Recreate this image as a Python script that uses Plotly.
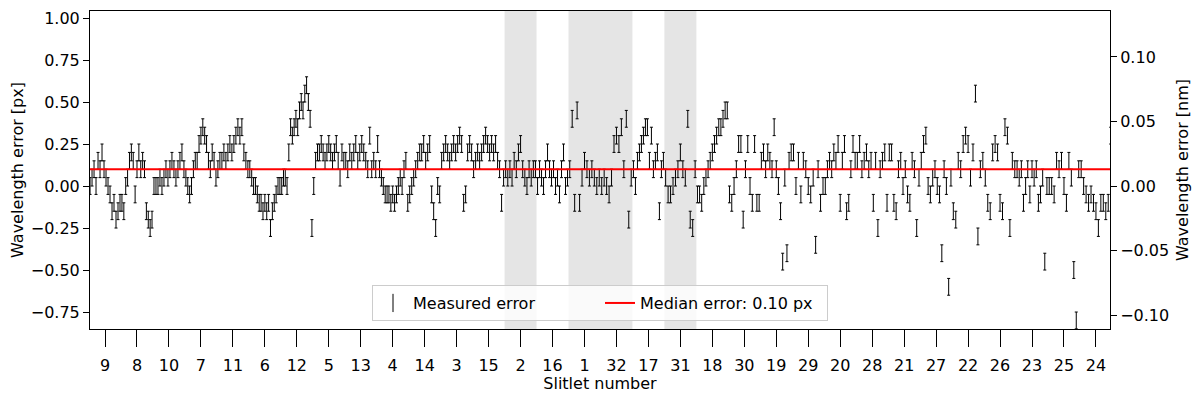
import plotly.graph_objects as go

# Slitlet order along the x axis
slitlets = ["9", "8", "10", "7", "11", "6", "12", "5", "13", "4", "14", "3", "15", "2", "16", "1",
            "32", "17", "31", "18", "30", "19", "29", "20", "28", "21", "27", "22", "26", "23", "25", "24"]

# Slitlets flagged as bad (shaded)
bad_slitlets = ["2", "1", "32", "31"]

# Measured wavelength error per line [px], grouped by slitlet
err_9 = [0.0, 0.05, 0.1, 0.0, 0.15, 0.1, 0.2, 0.1, 0.05, 0.0, -0.05, -0.15, -0.1, -0.2, -0.15, -0.1]
err_8 = [-0.1, -0.15, 0.0, 0.05, 0.15, 0.2, 0.15, -0.05, 0.1, 0.2, 0.1, 0.15, 0.1, -0.15, -0.2, -0.25, -0.2]
err_10 = [0.0, 0.0, 0.0, 0.05, 0.0, 0.05, 0.1, 0.05, 0.1, 0.15, 0.1, 0.05, 0.1, 0.15, 0.2, 0.1]
err_7 = [0.05, 0.0, -0.05, 0.0, 0.1, 0.15, 0.15, 0.25, 0.3, 0.35, 0.3, 0.25, 0.15, 0.1, 0.2, 0.15, 0.05]
err_11 = [0.1, 0.15, 0.15, 0.2, 0.15, 0.2, 0.25, 0.2, 0.25, 0.3, 0.35, 0.3, 0.35, 0.2, 0.15, 0.1]
err_6 = [0.1, 0.05, 0.0, 0.0, -0.05, -0.1, -0.1, -0.15, -0.1, -0.15, -0.1, -0.25, -0.15, -0.1, -0.05, 0.0, 0.0]
err_12 = [0.0, 0.05, 0.05, 0.0, 0.2, 0.35, 0.3, 0.35, 0.4, 0.35, 0.45, 0.5, 0.45, 0.55, 0.6, 0.5, 0.4, -0.25]
err_5 = [0.0, 0.15, 0.2, 0.2, 0.25, 0.2, 0.15, 0.2, 0.25, 0.2, 0.15, 0.2, 0.25, 0.15, 0.05, 0.2, 0.15]
err_13 = [0.15, 0.1, 0.2, 0.15, 0.2, 0.25, 0.15, 0.2, 0.25, 0.2, 0.15, 0.1, 0.3, 0.1, 0.15, 0.1]
err_4 = [0.25, 0.1, 0.05, 0.0, -0.05, -0.05, -0.05, -0.1, -0.05, -0.1, -0.05, 0.0, 0.05, 0.0, 0.1, 0.15, -0.1]
err_14 = [-0.05, 0.0, 0.05, 0.1, 0.15, 0.2, 0.2, 0.25, 0.15, 0.2, 0.25, -0.05, -0.15, -0.25, 0.0, -0.05]
err_3 = [0.15, 0.2, 0.25, 0.2, 0.15, 0.2, 0.25, 0.2, 0.25, 0.3, 0.25, -0.1, -0.05, 0.2, 0.25, 0.2]
err_15 = [0.1, 0.15, 0.2, 0.15, 0.2, 0.25, 0.3, 0.25, 0.2, 0.25, 0.2, 0.25, 0.15, 0.1, -0.1, 0.05]
err_2 = [0.1, 0.05, 0.1, 0.05, 0.15, 0.1, 0.2, 0.25, 0.1, 0.05, 0.0, 0.1, 0.05, 0.1, 0.1]
err_16 = [0.0, 0.1, 0.05, 0.0, 0.1, 0.2, 0.1, 0.05, 0.1, 0.0, 0.05, -0.05, 0.1, 0.2, 0.0, 0.05]
err_1 = [0.1, 0.4, -0.1, 0.45, -0.1, 0.05, 0.15, 0.1, 0.05, 0.1, 0.05, 0.0, 0.05]
err_32 = [0.0, 0.05, 0.0, -0.05, 0.05, 0.25, 0.3, 0.25, 0.35, 0.1, 0.4, -0.2, 0.05]
err_17 = [0.1, 0.0, 0.15, 0.2, 0.25, 0.3, 0.35, 0.35, 0.15, 0.3, 0.1, 0.15, 0.2, -0.15, 0.1, 0.15]
err_31 = [0.05, -0.05, -0.05, 0.0, 0.05, 0.1, 0.2, 0.1, 0.05, 0.4, -0.2, -0.25, 0.1]
err_18 = [-0.05, -0.05, -0.1, 0.0, 0.05, 0.1, 0.15, 0.2, 0.25, 0.3, 0.35, 0.35, 0.4, 0.45, 0.45]
err_30 = [-0.05, -0.1, 0.0, 0.1, 0.25, 0.25, -0.2, 0.1, 0.25, 0.0, -0.1, 0.25, -0.1, -0.1]
err_19 = [0.15, 0.2, 0.1, 0.2, 0.15, 0.1, 0.35, 0.1, 0.0, -0.15, -0.45, 0.05, -0.4, 0.15, 0.2]
err_29 = [0.2, 0.0, 0.15, -0.05, 0.15, 0.1, 0.0, -0.05, 0.05, -0.35, 0.1, -0.1, 0.0]
err_20 = [0.0, 0.1, 0.15, 0.1, 0.2, 0.15, 0.25, -0.1, 0.15, 0.25, -0.15, -0.1, 0.1, 0.25, 0.15]
err_28 = [0.15, 0.25, 0.1, 0.15, 0.2, 0.1, 0.15, -0.1, 0.15, -0.25, 0.1, 0.15, 0.2, -0.1]
err_21 = [0.2, 0.2, -0.1, -0.15, 0.1, 0.15, 0.0, 0.1, -0.05, -0.1, 0.15, 0.1, -0.25, 0.05]
err_27 = [0.15, 0.25, 0.3, 0.0, -0.05, 0.05, 0.1, 0.0, -0.05, -0.4, 0.1, 0.0, -0.6, 0.05]
err_22 = [-0.15, -0.2, 0.15, 0.1, 0.25, 0.3, 0.25, 0.05, 0.2, 0.55, -0.3, 0.1, 0.15]
err_26 = [0.05, -0.1, -0.15, 0.2, 0.25, 0.2, -0.1, -0.15, 0.35, 0.3, -0.25, 0.15, 0.1]
err_23 = [0.1, 0.05, 0.1, -0.1, 0.0, 0.1, -0.05, 0.1, 0.05, 0.1, -0.1, -0.05, 0.05, -0.45, 0.0]
err_25 = [0.0, 0.0, -0.05, 0.15, 0.1, 0.15, 0.0, -0.1, 0.15, 0.05, -0.5, -0.8, 0.1]
err_24 = [0.1, 0.0, -0.05, -0.1, -0.05, -0.1, -0.15, -0.25, -0.1, -0.1, -0.15, -0.1, 0.3]

errors_by_slitlet = [err_9, err_8, err_10, err_7, err_11, err_6, err_12, err_5, err_13, err_4,
                     err_14, err_3, err_15, err_2, err_16, err_1, err_32, err_17, err_31, err_18,
                     err_30, err_19, err_29, err_20, err_28, err_21, err_27, err_22, err_26, err_23,
                     err_25, err_24]

uncertainty_px = 0.05   # error bar half-height [px]
median_px = 0.10        # median error [px]
px_to_nm = 0.1302       # dispersion, nm per px

# Spread lines of each slitlet across its slot on the axis
xs, ys = [], []
for i, vals in enumerate(errors_by_slitlet):
    n = len(vals)
    for j, v in enumerate(vals):
        xs.append(i - 0.5 + (j + 0.5) / n)
        ys.append(v)

y_range = [-0.851, 1.0417]
x_range = [-0.47, len(slitlets) - 0.56]
font = dict(family="DejaVu Sans", size=16, color="black")

fig = go.Figure()

# Shade bad slitlets, merging neighbours into one band
bad_idx = [i for i, name in enumerate(slitlets) if name in bad_slitlets]
bands = []
for i in bad_idx:
    if bands and bands[-1][1] == i - 1:
        bands[-1][1] = i
    else:
        bands.append([i, i])
for a, b in bands:
    fig.add_vrect(x0=a - 0.5, x1=b + 0.5, fillcolor="#e5e5e5", opacity=1, line_width=0, layer="below")

fig.add_trace(go.Scatter(
    x=xs, y=ys, mode="markers",
    marker=dict(size=1, color="black", opacity=0),
    error_y=dict(type="constant", value=uncertainty_px, color="black", thickness=1, width=1.5),
    showlegend=False, hoverinfo="skip"))

# Legend stand-in for the error bars
fig.add_trace(go.Scatter(
    x=[None], y=[None], mode="markers", name="Measured error",
    marker=dict(symbol="line-ns-open", size=13, color="black", line=dict(width=1, color="black"))))

fig.add_trace(go.Scatter(
    x=x_range, y=[median_px, median_px], mode="lines",
    name=f"Median error: {median_px:.2f} px",
    line=dict(color="red", width=2)))

# invisible trace to activate the nm axis
fig.add_trace(go.Scatter(x=[None], y=[None], yaxis="y2", showlegend=False))

axis_common = dict(showline=True, linecolor="black", linewidth=1, ticks="outside",
                   tickcolor="black", showgrid=False, zeroline=False, tickfont=font,
                   automargin=False)

# page body adds an 8px offset, so the figure is 8px smaller than the window
fig.update_layout(
    width=1192, height=385,
    margin=dict(l=82, r=90, t=3, b=64),
    plot_bgcolor="white", paper_bgcolor="white",
    font=font,
    xaxis=dict(axis_common, range=x_range, tickvals=list(range(len(slitlets))), ticktext=slitlets,
               ticklen=17, ticklabelstandoff=5, mirror=True,
               title=dict(text="Slitlet number", font=font, standoff=2)),
    yaxis=dict(axis_common, range=y_range, dtick=0.25, tick0=0, tickformat=".2f", ticklen=6,
               title=dict(text="Wavelength error [px]", font=font, standoff=8)),
    yaxis2=dict(axis_common, overlaying="y", side="right",
                range=[y_range[0] * px_to_nm, y_range[1] * px_to_nm],
                dtick=0.05, tick0=0, tickformat=".2f", ticklen=6,
                title=dict(text="Wavelength error [nm]", font=font, standoff=8)),
    legend=dict(orientation="h", x=0.5, xanchor="center", y=0.025, yanchor="bottom",
                bgcolor="rgba(255,255,255,0.8)", bordercolor="#cccccc", borderwidth=1,
                font=font, entrywidth=182),
)

fig.write_html("out.html")
